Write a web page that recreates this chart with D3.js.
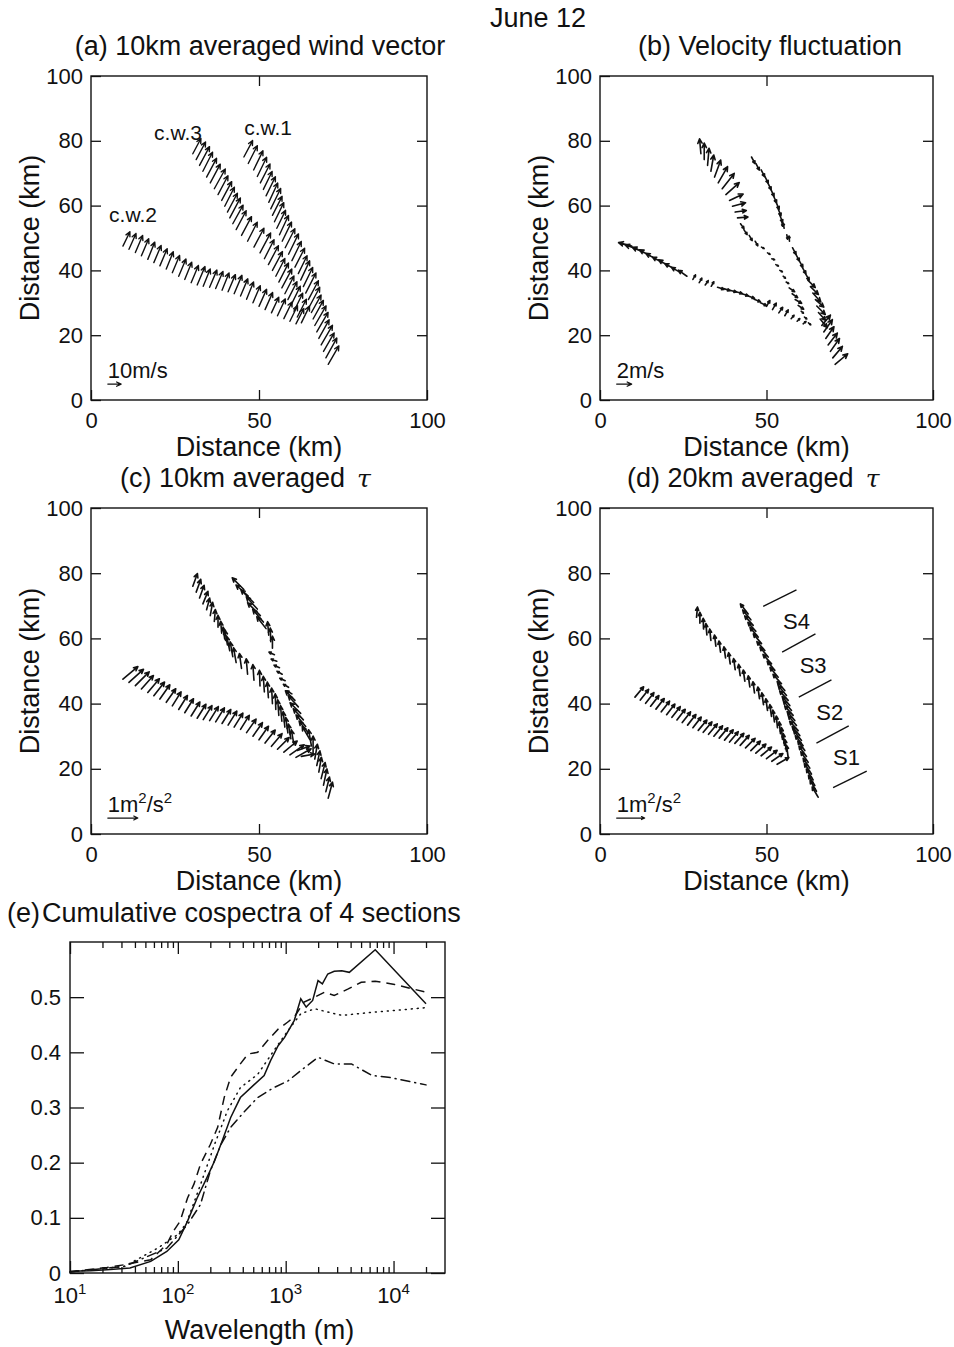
<!DOCTYPE html>
<html><head><meta charset="utf-8">
<script src="https://cdn.jsdelivr.net/npm/d3@7"></script>
<style>
body{margin:0;background:#fff}
svg{display:block}
text{font-family:"Liberation Sans",Arial,Helvetica,sans-serif;fill:#111}
</style>
</head><body>
<svg id="chart" width="954" height="1347"></svg>
<script>
// ---------------- DATA ----------------
const distTicksX = [0, 50, 100];
const distTicksY = [0, 20, 40, 60, 80, 100];

// track positions (km) shared by panels (a)-(c)
const cw1X = [45.5,46.8,48.4,49.5,50.4,51.3,52.1,52.9,53.5,54.0,54.6,55.3,56.1,56.9,57.8,58.8,59.8,60.7,61.7,62.4,63.2,63.9,64.7,65.1,65.6,66.1,66.6,67.2,67.8,68.5,69.2,69.9,70.6];
const cw1Y = [75,73,71,69,67,65,63,61,59,57,55,53,51,49,47,45,43,41,39,37,35,33,31,29,27,25,23,21,19,17,15,13,11];
const cw3X = [30.3,31.3,32.3,33.3,34.4,35.5,36.7,37.8,38.9,39.8,40.6,41.3,42.2,43.2,44.8,46.6,48.5,50.3,51.6,52.8,54.0,55.0,55.9,56.8,57.7,58.6,59.5,60.4,61.4,62.6];
const cw3Y = [76,74.2,72.4,70.6,68.8,67,65.2,63.4,61.6,59.8,58,56.2,54.4,52.6,50.8,49,47.2,45.4,43.6,41.8,40,38.2,36.4,34.6,32.8,31,29.2,27.4,25.6,23.8];
const cw2X = [9.5,11.3,13.2,15.0,16.9,18.7,20.5,22.4,24.2,26.1,27.9,29.8,31.6,33.4,35.3,37.1,39.0,40.8,42.6,44.5,46.3,48.2,50.0,51.8,53.7,55.5,57.4,59.2,61.0];
const cw2Y = [47.5,46.5,45.5,44.5,43.4,42.4,41.4,40.4,39.3,38.2,37.2,36.2,35.5,35.1,34.8,34.4,33.9,33.4,32.8,32.1,31.1,30.0,28.9,27.9,26.9,26.0,25.1,24.3,23.5];

// (a) 10km averaged wind: speed (m/s), direction (deg, counter-clockwise from east)
const aCw1Mag = [14,15,16,16,16,15,16,16,17,16,16,15,16,16,16,17,16,16,15,16,16,17,16,16,15,16,17,17,16,17,16,17,16];
const aCw1Dir = [62,63,64,64,63,64,64,65,64,63,64,64,65,64,63,64,64,63,64,65,64,63,62,62,61,61,60,60,61,60,60,61,60];
const aCw3Mag = [13,15,16,16,16,16,17,16,16,16,16,17,16,16,16,16,16,17,16,16,16,15,16,16,15,15,16,15,15,14];
const aCw3Dir = [62,62,62,63,62,62,61,62,62,63,62,62,61,62,62,63,62,62,63,62,62,63,63,62,63,63,64,64,63,64];
const aCw2Mag = [12,13,14,14,14,14,14,14,14,14,14,14,15,14,14,14,14,14,15,14,14,14,14,14,13,14,14,13,13];
const aCw2Dir = [64,66,67,67,68,67,67,68,67,67,68,67,67,68,67,67,68,67,67,67,68,67,66,66,65,65,64,64,63];

// (b) velocity fluctuation (m/s)
const bCw1Mag = [1.0,1.0,1.0,1.0,1.0,1.0,1.0,1.0,1.0,1.0,0.6,0.7,0.6,0.7,1.0,1.0,1.0,1.0,1.0,1.4,1.5,1.6,1.5,1.6,1.4,1.5,1.8,2.0,1.9,2.0,2.1,2.0,2.2];
const bCw1Dir = [-62,-62,-63,-63,-64,-65,-66,-67,-68,-68,-80,100,-80,95,-62,-62,-60,-60,-60,-45,-45,-48,-42,-45,-48,-50,50,55,55,52,55,50,40];
const bCw3Mag = [2.0,2.2,2.3,2.2,2.4,2.5,2.6,2.4,2.0,1.8,1.5,1.4,0.8,0.8,0.8,0.7,0.4,0.4,0.4,0.4,0.4,0.4,0.4,0.9,0.9,1.0,0.9,0.4,0.4,0.4];
const bCw3Dir = [95,90,85,80,70,60,52,42,25,15,8,5,-55,-57,-60,-60,-30,-30,-20,-30,-30,-40,-30,-35,-35,-30,-35,-40,-40,-40];
const bCw2Mag = [1.8,1.8,1.7,1.6,1.6,1.5,1.5,1.5,1.4,1.4,0.7,0.7,0.7,0.7,0.9,0.9,0.9,0.9,0.9,0.9,0.9,0.9,0.9,1.0,0.9,0.9,0.6,0.5,0.5];
const bCw2Dir = [165,160,155,150,150,150,148,150,150,145,60,60,55,60,-18,-18,-15,-15,-18,-20,-22,-25,60,60,55,60,50,45,40];

// (c) 10km averaged tau (m^2/s^2)
const cCw1Mag = [0.55,0.55,0.6,0.55,0.6,0.55,0.5,0.45,0.45,0.4,0.2,0.2,0.2,0.2,0.2,0.2,0.2,0.45,0.5,0.5,0.5,0.5,0.5,0.5,0.55,0.55,0.5,0.5,0.5,0.55,0.55,0.5,0.55];
const cCw1Dir = [135,138,135,132,135,130,128,95,92,90,155,160,155,150,155,150,150,135,132,135,132,130,128,120,100,90,80,78,80,76,78,76,75];
const cCw3Mag = [0.45,0.45,0.45,0.45,0.4,0.45,0.4,0.4,0.4,0.4,0.5,0.5,0.5,0.5,0.5,0.52,0.52,0.52,0.52,0.52,0.52,0.52,0.52,0.52,0.52,0.52,0.5,0.5,0.45,0.45];
const cCw3Dir = [70,70,70,68,75,80,85,90,95,98,100,102,100,100,98,95,94,92,94,94,93,92,94,95,96,98,100,100,20,10];
const cCw2Mag = [0.65,0.65,0.65,0.6,0.6,0.58,0.58,0.55,0.55,0.55,0.55,0.55,0.55,0.55,0.55,0.55,0.55,0.55,0.55,0.55,0.55,0.55,0.55,0.55,0.55,0.55,0.58,0.58,0.58];
const cCw2Dir = [40,42,45,48,50,52,55,55,58,58,58,58,58,58,58,58,58,58,58,58,55,55,55,52,50,45,40,35,30];

// (d) 20km averaged tau: positions (km) and vectors (m^2/s^2)
const dCw1X = [44.5,45.3,46.0,46.8,47.5,48.5,49.5,50.5,51.5,52.5,53.5,54.5,55.5,56.0,56.5,57.0,57.5,58.0,58.5,59.0,59.5,60.0,60.5,61.0,61.5,62.0,62.5,63.0,63.5,64.0,64.5,65.0,65.5];
const dCw1Y = [67.5,65.7,64.0,62.2,60.4,58.4,56.3,54.3,52.2,50.2,48.1,46.1,44.0,42.5,41.0,39.4,37.9,36.4,34.8,33.3,31.7,30.2,28.7,27.1,25.6,23.8,22.0,20.2,18.4,16.6,14.9,13.1,11.3];
const dCw3X = [29.0,30.0,31.1,32.1,33.3,34.8,36.2,37.7,39.1,40.6,42.1,43.5,45.0,46.4,47.9,49.1,50.3,51.5,52.4,53.3,54.2,54.8,55.4,56.0,56.5];
const dCw3Y = [66.5,64.7,62.9,61.1,59.4,57.6,55.8,54.0,52.2,50.4,48.6,46.9,45.1,43.3,41.5,39.7,37.9,36.1,34.4,32.6,30.8,29.0,27.2,25.4,23.6];
const dCw2X = [10.5,12.1,13.7,15.2,16.8,18.4,20.0,21.6,23.1,24.7,26.3,27.9,29.5,31.0,32.6,34.2,35.8,37.4,38.9,40.5,42.1,43.7,45.3,46.8,48.4,50.0,51.6,53.2];
const dCw2Y = [42.0,41.1,40.1,39.2,38.3,37.5,36.6,35.8,35.0,34.2,33.4,32.6,31.8,31.2,30.6,30.0,29.4,28.8,28.2,27.8,27.2,26.4,25.6,24.8,24.0,23.1,22.3,21.4];
const dCw1Mag = [0.45,0.45,0.45,0.42,0.45,0.45,0.42,0.45,0.45,0.42,0.45,0.45,0.42,0.45,0.45,0.42,0.45,0.45,0.42,0.45,0.45,0.42,0.45,0.45,0.42,0.45,0.45,0.42,0.45,0.45,0.42,0.45,0.42];
const dCw1Dir = [128,130,132,132,130,130,132,130,132,130,130,132,130,130,132,130,130,132,130,130,132,130,128,128,126,126,125,124,124,122,122,120,120];
const dCw3Mag = [0.36,0.38,0.38,0.4,0.4,0.4,0.4,0.4,0.4,0.4,0.4,0.4,0.4,0.4,0.42,0.42,0.42,0.42,0.42,0.42,0.42,0.42,0.42,0.42,0.42];
const dCw3Dir = [85,90,92,95,96,97,98,98,98,98,98,98,98,98,98,98,98,98,98,96,96,95,96,98,98];
const dCw2Mag = [0.48,0.48,0.48,0.48,0.48,0.48,0.48,0.48,0.48,0.48,0.48,0.48,0.48,0.48,0.48,0.48,0.48,0.48,0.48,0.48,0.48,0.48,0.48,0.48,0.48,0.48,0.48,0.48];
const dCw2Dir = [50,52,52,52,52,52,52,52,52,52,52,52,50,50,50,50,50,50,50,48,48,45,45,42,40,38,35,30];

// annotations
const cwLabels = ["c.w.1", "c.w.2", "c.w.3"];
const cwLabelX = [52.7, 12.5, 25.9];
const cwLabelY = [84, 57, 82.4];
const sectionLabels = ["S4", "S3", "S2", "S1"];
const sectionLabelX = [59, 64, 69, 74];
const sectionLabelY = [65.3, 51.7, 37.4, 23.6];
const sectionLineX1 = [49, 54.7, 59.7, 65, 70];
const sectionLineY1 = [69.8, 55.8, 42, 27.9, 14.2];
const sectionLineX2 = [59, 64.7, 69.5, 74.7, 80.1];
const sectionLineY2 = [74.9, 61.4, 47.3, 33.2, 19.3];

// (e) cumulative cospectra
const specTicksX = [10, 100, 1000, 10000];
const specTicksY = [0, 0.1, 0.2, 0.3, 0.4, 0.5];
const solidWl = [10,15.5,22,36,56,79,102,123,151,186,219,257,309,380,513,631,724,851,977,1202,1380,1549,1778,1995,2188,2455,2818,3311,3890,6761,20000];
const solidVal = [0.003,0.004,0.006,0.009,0.021,0.039,0.06,0.094,0.136,0.173,0.203,0.239,0.282,0.318,0.342,0.358,0.385,0.412,0.427,0.458,0.497,0.482,0.494,0.530,0.524,0.542,0.547,0.548,0.545,0.586,0.488];
const dashWl = [10,22,32,56,79,91,105,123,141,162,200,234,269,309,380,447,550,676,851,1047,1202,1479,1862,2291,2818,3802,5012,6761,10233,20000];
const dashVal = [0.002,0.01,0.015,0.024,0.052,0.076,0.094,0.136,0.161,0.197,0.233,0.264,0.318,0.355,0.379,0.397,0.40,0.421,0.442,0.455,0.464,0.491,0.50,0.509,0.503,0.515,0.527,0.529,0.523,0.509];
const dotWl = [10,32,65,100,120,162,219,288,380,550,776,1047,1380,1862,2455,3311,4677,6761,10233,20000];
const dotVal = [0.002,0.012,0.045,0.07,0.09,0.16,0.233,0.294,0.336,0.36,0.403,0.439,0.47,0.479,0.473,0.467,0.47,0.473,0.476,0.481];
const dashDotWl = [10,32,79,123,162,200,251,309,407,550,776,1047,1380,1995,2818,4074,6310,8913,20000];
const dashDotVal = [0.002,0.012,0.045,0.088,0.124,0.185,0.233,0.264,0.291,0.318,0.336,0.348,0.367,0.391,0.379,0.379,0.358,0.355,0.341];

// ---------------- DRAWING ----------------
const svg = d3.select("#chart");
const INK = "#111";

svg.append("text").attr("x", 538).attr("y", 27).attr("text-anchor", "middle")
  .attr("font-size", 27).text("June 12");

function styleAxis(g, fs) {
  g.select(".domain").remove();
  g.selectAll(".tick line").attr("stroke", INK).attr("stroke-width", 1.3);
  g.selectAll(".tick text").attr("font-size", fs).attr("fill", INK)
    .attr("font-family", '"Liberation Sans",Arial,sans-serif');
}

function drawVectors(g, x, y, xs, ys, mags, dirs, k, headLen, sw) {
  const data = xs.map((d, i) => ({ x: xs[i], y: ys[i], m: mags[i], a: dirs[i] }));
  g.selectAll(null).data(data).enter().append("path")
    .attr("d", d => {
      const x0 = x(d.x), y0 = y(d.y);
      const L = d.m * k, r = d.a * Math.PI / 180;
      const x1 = x0 + L * Math.cos(r), y1 = y0 - L * Math.sin(r);
      const h = Math.min(headLen, L * 0.38);
      const b1 = r + Math.PI - 0.45, b2 = r + Math.PI + 0.45;
      return `M${x0},${y0}L${x1},${y1}M${x1 + h * Math.cos(b1)},${y1 - h * Math.sin(b1)}L${x1},${y1}L${x1 + h * Math.cos(b2)},${y1 - h * Math.sin(b2)}`;
    })
    .attr("fill", "none").attr("stroke", INK).attr("stroke-width", sw)
    .attr("stroke-linecap", "round").attr("stroke-linejoin", "round");
}

function distPanel(cfg) {
  const x = d3.scaleLinear().domain([0, 100]).range([cfg.left, cfg.right]);
  const y = d3.scaleLinear().domain([0, 100]).range([cfg.bottom, cfg.top]);
  const g = svg.append("g");
  g.append("rect").attr("x", cfg.left).attr("y", cfg.top)
    .attr("width", cfg.right - cfg.left).attr("height", cfg.bottom - cfg.top)
    .attr("fill", "none").attr("stroke", INK).attr("stroke-width", 1.4);

  const gb = g.append("g").attr("transform", `translate(0,${cfg.bottom})`)
    .call(d3.axisBottom(x).tickValues(distTicksX).tickSizeInner(-10).tickSizeOuter(0).tickPadding(12).tickFormat(d3.format("d")));
  styleAxis(gb, 22);
  const gt = g.append("g").attr("transform", `translate(0,${cfg.top})`)
    .call(d3.axisTop(x).tickValues([50]).tickSizeInner(-10).tickSizeOuter(0).tickFormat(""));
  styleAxis(gt, 22);
  const gl = g.append("g").attr("transform", `translate(${cfg.left},0)`)
    .call(d3.axisLeft(y).tickValues(distTicksY).tickSizeInner(-10).tickSizeOuter(0).tickPadding(8).tickFormat(d3.format("d")));
  styleAxis(gl, 22);
  const gr = g.append("g").attr("transform", `translate(${cfg.right},0)`)
    .call(d3.axisRight(y).tickValues([20, 40, 60, 80]).tickSizeInner(-10).tickSizeOuter(0).tickFormat(""));
  styleAxis(gr, 22);

  g.append("text").attr("x", (cfg.left + cfg.right) / 2).attr("y", cfg.bottom + 56)
    .attr("text-anchor", "middle").attr("font-size", 27).text("Distance (km)");
  g.append("text").attr("transform", `translate(${cfg.left - 52},${(cfg.top + cfg.bottom) / 2}) rotate(-90)`)
    .attr("text-anchor", "middle").attr("font-size", 27).text("Distance (km)");

  const t = g.append("text").attr("x", cfg.titleX).attr("y", cfg.top - 21)
    .attr("text-anchor", cfg.titleAnchor).attr("font-size", 27).text(cfg.title);
  if (cfg.tau) {
    t.append("tspan").attr("dx", 12).attr("font-family", '"DejaVu Serif","Liberation Serif",serif')
      .attr("font-style", "italic").attr("font-size", 25).text("τ");
  }

  const vg = g.append("g");
  cfg.sets.forEach(s => drawVectors(vg, x, y, s[0], s[1], s[2], s[3], cfg.k, cfg.head, cfg.sw));

  drawVectors(vg, x, y, [5], [4.9], [cfg.scaleVal], [0], cfg.k, cfg.head, 1.2);
  const lab = g.append("text").attr("x", x(5)).attr("y", y(6.9)).attr("font-size", 22);
  cfg.scaleLabel.forEach(p => {
    const ts = lab.append("tspan").text(p.t);
    if (p.sup) ts.attr("font-size", 15).attr("dy", -9);
    else if (p.after) ts.attr("dy", 9);
  });
  return { g, x, y };
}

// (a)
const pa = distPanel({
  left: 91, right: 427, top: 76, bottom: 400,
  title: "(a) 10km averaged wind vector", titleX: 260, titleAnchor: "middle",
  k: 1.33, head: 5, sw: 1.4, scaleVal: 10,
  scaleLabel: [{ t: "10m/s" }],
  sets: [[cw1X, cw1Y, aCw1Mag, aCw1Dir], [cw3X, cw3Y, aCw3Mag, aCw3Dir], [cw2X, cw2Y, aCw2Mag, aCw2Dir]]
});
pa.g.selectAll(null).data(cwLabels).enter().append("text")
  .attr("x", (d, i) => pa.x(cwLabelX[i])).attr("y", (d, i) => pa.y(cwLabelY[i]) + 7)
  .attr("text-anchor", "middle").attr("font-size", 21).text(d => d);

// (b)
distPanel({
  left: 600, right: 933, top: 76, bottom: 400,
  title: "(b) Velocity fluctuation", titleX: 770, titleAnchor: "middle",
  k: 7.5, head: 5, sw: 1.6, scaleVal: 2,
  scaleLabel: [{ t: "2m/s" }],
  sets: [[cw1X, cw1Y, bCw1Mag, bCw1Dir], [cw3X, cw3Y, bCw3Mag, bCw3Dir], [cw2X, cw2Y, bCw2Mag, bCw2Dir]]
});

// (c)
distPanel({
  left: 91, right: 427, top: 508, bottom: 834,
  title: "(c) 10km averaged", titleX: 120, titleAnchor: "start", tau: true,
  k: 30, head: 4.5, sw: 1.6, scaleVal: 1,
  scaleLabel: [{ t: "1m" }, { t: "2", sup: true }, { t: "/s", after: true }, { t: "2", sup: true }],
  sets: [[cw1X, cw1Y, cCw1Mag, cCw1Dir], [cw3X, cw3Y, cCw3Mag, cCw3Dir], [cw2X, cw2Y, cCw2Mag, cCw2Dir]]
});

// (d)
const pd = distPanel({
  left: 600, right: 933, top: 508, bottom: 834,
  title: "(d) 20km averaged", titleX: 627, titleAnchor: "start", tau: true,
  k: 28, head: 3.5, sw: 1.7, scaleVal: 1,
  scaleLabel: [{ t: "1m" }, { t: "2", sup: true }, { t: "/s", after: true }, { t: "2", sup: true }],
  sets: [[dCw1X, dCw1Y, dCw1Mag, dCw1Dir], [dCw3X, dCw3Y, dCw3Mag, dCw3Dir], [dCw2X, dCw2Y, dCw2Mag, dCw2Dir]]
});
pd.g.selectAll(null).data(sectionLineX1).enter().append("line")
  .attr("x1", (d, i) => pd.x(sectionLineX1[i])).attr("y1", (d, i) => pd.y(sectionLineY1[i]))
  .attr("x2", (d, i) => pd.x(sectionLineX2[i])).attr("y2", (d, i) => pd.y(sectionLineY2[i]))
  .attr("stroke", INK).attr("stroke-width", 1.4);
pd.g.selectAll(null).data(sectionLabels).enter().append("text")
  .attr("x", (d, i) => pd.x(sectionLabelX[i])).attr("y", (d, i) => pd.y(sectionLabelY[i]) + 8)
  .attr("text-anchor", "middle").attr("font-size", 22).text(d => d);

// (e)
(function () {
  const left = 70, right = 445, top = 942, bottom = 1273;
  const x = d3.scaleLog().domain([10, 30000]).range([left, right]);
  const y = d3.scaleLinear().domain([0, 0.6]).range([bottom, top]);
  const g = svg.append("g");
  g.append("rect").attr("x", left).attr("y", top).attr("width", right - left).attr("height", bottom - top)
    .attr("fill", "none").attr("stroke", INK).attr("stroke-width", 1.4);

  const minor = [];
  for (let e = 1; e <= 4; e++) for (let m = 2; m <= 9; m++) { const v = m * Math.pow(10, e); if (v < 30000) minor.push(v); }

  const gb1 = g.append("g").attr("transform", `translate(0,${bottom})`)
    .call(d3.axisBottom(x).tickValues(minor).tickSizeInner(-6).tickSizeOuter(0).tickFormat(""));
  styleAxis(gb1, 22);
  const gb2 = g.append("g").attr("transform", `translate(0,${bottom})`)
    .call(d3.axisBottom(x).tickValues(specTicksX).tickSizeInner(-12).tickSizeOuter(0).tickFormat(""));
  styleAxis(gb2, 22);
  const gt1 = g.append("g").attr("transform", `translate(0,${top})`)
    .call(d3.axisTop(x).tickValues(minor).tickSizeInner(-6).tickSizeOuter(0).tickFormat(""));
  styleAxis(gt1, 22);
  const gt2 = g.append("g").attr("transform", `translate(0,${top})`)
    .call(d3.axisTop(x).tickValues(specTicksX).tickSizeInner(-12).tickSizeOuter(0).tickFormat(""));
  styleAxis(gt2, 22);
  const gl = g.append("g").attr("transform", `translate(${left},0)`)
    .call(d3.axisLeft(y).tickValues(specTicksY).tickSizeInner(-14).tickSizeOuter(0).tickPadding(9)
      .tickFormat(d => d === 0 ? "0" : d3.format(".1f")(d)));
  styleAxis(gl, 22);
  const gr = g.append("g").attr("transform", `translate(${right},0)`)
    .call(d3.axisRight(y).tickValues(specTicksY).tickSizeInner(-14).tickSizeOuter(0).tickFormat(""));
  styleAxis(gr, 22);

  specTicksX.forEach(v => {
    const t = g.append("text").attr("x", x(v)).attr("y", bottom + 30).attr("text-anchor", "middle").attr("font-size", 22);
    t.append("tspan").text("10");
    t.append("tspan").attr("font-size", 15).attr("dy", -9).text(String(Math.round(Math.log10(v))));
  });
  g.append("text").attr("x", (left + right) / 2 + 2).attr("y", bottom + 66).attr("text-anchor", "middle")
    .attr("font-size", 27).text("Wavelength (m)");

  g.append("text").attr("x", 42).attr("y", 922).attr("font-size", 27)
    .text("Cumulative cospectra of 4 sections");
  g.append("text").attr("x", 40).attr("y", 922).attr("font-size", 27).attr("text-anchor", "end")
    .text("(e)");

  const line = d3.line().x(d => x(d[0])).y(d => y(d[1]));
  const series = [
    { wl: solidWl, v: solidVal, dash: null, cap: "butt" },
    { wl: dashWl, v: dashVal, dash: "9,6", cap: "butt" },
    { wl: dotWl, v: dotVal, dash: "1,5", cap: "round" },
    { wl: dashDotWl, v: dashDotVal, dash: "9,5,1,5", cap: "round" }
  ];
  series.forEach(s => {
    g.append("path").datum(s.wl.map((w, i) => [w, s.v[i]]))
      .attr("d", line).attr("fill", "none").attr("stroke", INK).attr("stroke-width", 1.5)
      .attr("stroke-dasharray", s.dash).attr("stroke-linecap", s.cap);
  });
})();
</script>
</body></html>
